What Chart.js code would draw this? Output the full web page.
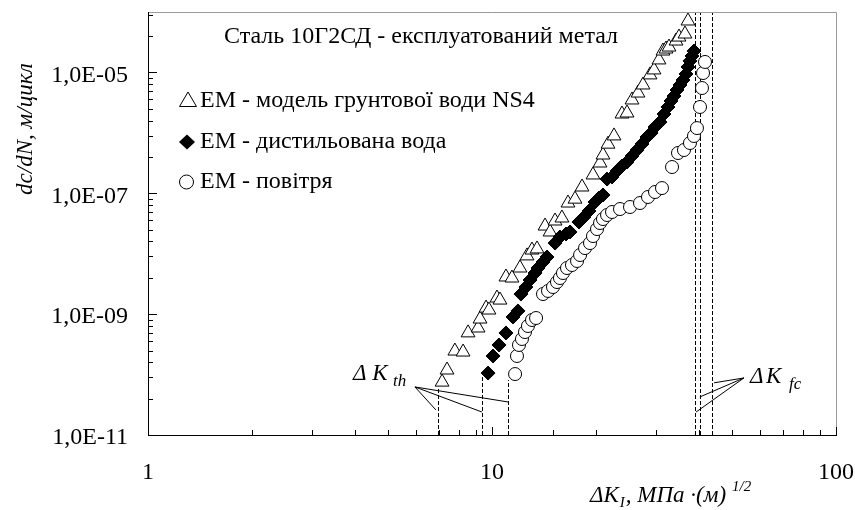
<!DOCTYPE html>
<html>
<head>
<meta charset="utf-8">
<script src="https://cdn.jsdelivr.net/npm/chart.js@4.4.0/dist/chart.umd.min.js"></script>
<style>
  html, body { margin: 0; padding: 0; background: #fff; }
</style>
</head>
<body>
<canvas id="myChart" width="855" height="510"></canvas>
<script>
// EM - model ground water NS4 (triangles)
var ns4K = [7.16, 7.40, 7.80, 8.24, 8.52, 9.11, 9.23, 9.61, 9.80, 10.34, 10.55, 10.98, 11.43, 12.06, 12.64,
  13.07, 13.52, 14.26, 14.75, 15.25, 15.97, 16.63, 17.43, 18.27, 19.66, 20.61, 21.02, 21.74, 22.63, 23.87,
  24.69, 25.53, 26.57, 27.48, 28.80, 29.58, 30.58, 31.41, 32.05, 32.70, 34.27, 34.96, 36.39, 37.13];
var ns4V = [7.5e-11, 1.19e-10, 2.45e-10, 2.36e-10, 4.9e-10, 5.9e-10, 8.3e-10, 1.26e-9, 1.17e-9, 1.85e-9, 1.71e-9,
  4.12e-9, 3.96e-9, 5.8e-9, 9.2e-9, 1.15e-8, 1.2e-8, 2.87e-8, 2.29e-8, 3.48e-8, 3.9e-8, 6.9e-8, 8.0e-8, 1.27e-7,
  2.01e-7, 3.17e-7, 4.3e-7, 6.5e-7, 8.9e-7, 2.05e-6, 2.13e-6, 3.5e-6, 4.56e-6, 6.2e-6, 9.1e-6, 1.1e-5, 1.61e-5,
  2.26e-5, 2.44e-5, 2.63e-5, 3.31e-5, 3.85e-5, 4.32e-5, 7.1e-5];

// EM - distilled water (diamonds)
var distK = [9.74, 10.07, 10.48, 10.98, 11.51, 11.90, 12.14, 12.55, 12.90, 13.34, 13.61, 14.07, 14.45, 15.25,
  15.76, 16.41, 16.86, 17.90, 18.51, 19.14, 19.93, 20.47, 21.02, 21.60, 22.33, 23.09, 23.87, 24.69, 25.53, 26.40,
  27.29, 28.22, 29.00, 29.78, 30.79, 31.62, 32.48, 33.14, 33.81, 34.50, 35.20, 35.91, 36.64, 37.13, 37.63, 38.14, 38.65];
var distV = [1.06e-10, 2.03e-10, 3.09e-10, 4.88e-10, 8.97e-10, 1.13e-9, 2.15e-9, 2.81e-9, 3.67e-9, 4.79e-9, 5.8e-9,
  7.29e-9, 8.82e-9, 1.5e-8, 1.89e-8, 2.12e-8, 2.29e-8, 3.35e-8, 4.05e-8, 5.09e-8, 7.17e-8, 8.36e-8, 9.37e-8,
  1.72e-7, 1.86e-7, 2.34e-7, 2.83e-7, 3.29e-7, 4.14e-7, 5.2e-7, 6.54e-7, 8.54e-7, 9.94e-7, 1.25e-6, 1.51e-6,
  2.05e-6, 2.68e-6, 3.37e-6, 4.07e-6, 5.12e-6, 6.19e-6, 7.49e-6, 9.42e-6, 1.23e-5, 1.55e-5, 1.87e-5, 2.26e-5];

// EM - air (circles)
var airK = [11.67, 11.82, 11.98, 12.22, 12.47, 12.72, 13.07, 13.43, 14.07, 14.55, 15.04, 15.45, 15.76, 16.08,
  16.52, 17.08, 17.67, 18.03, 18.64, 19.27, 19.66, 20.20, 20.61, 21.02, 21.60, 22.33, 23.56, 25.19, 26.93, 28.41,
  29.78, 31.20, 33.37, 34.73, 36.15, 37.63, 38.65, 39.43, 40.24, 40.78, 41.06, 41.61];
var airV = [1.02e-10, 2.03e-10, 3.09e-10, 3.88e-10, 5.06e-10, 6.36e-10, 8.0e-10, 8.63e-10, 2.15e-9, 2.42e-9,
  2.81e-9, 3.4e-9, 3.96e-9, 4.79e-9, 5.8e-9, 6.5e-9, 7.58e-9, 9.52e-9, 1.24e-8, 1.5e-8, 1.96e-8, 2.56e-8,
  3.22e-8, 3.75e-8, 4.37e-8, 4.9e-8, 5.49e-8, 5.93e-8, 6.9e-8, 8.68e-8, 1.05e-7, 1.22e-7, 2.72e-7, 4.64e-7,
  5.2e-7, 6.79e-7, 8.87e-7, 1.2e-6, 2.68e-6, 5.52e-6, 9.78e-6, 1.49e-5];

// threshold and critical SIF (dashed lines)
var kth = [6.97, 9.35, 11.1];
var kthTop = [6.2e-11, 9.8e-11, 8.1e-11];
var kfc = [38.9, 40.2, 43.6];

var legendNames = ["ЕМ - модель грунтової води NS4", "ЕМ - дистильована вода", "ЕМ - повітря"];
var chartTitle = "Сталь 10Г2СД - експлуатований метал";
var yMajor = [1e-11, 1e-9, 1e-7, 1e-5];

function pts(k, v) {
  var out = [];
  for (var i = 0; i < Math.min(k.length, v.length); i++) out.push({ x: k[i], y: v[i] });
  return out;
}

function sciLabel(v) {
  var e = Math.round(Math.log10(v));
  var s = Math.abs(e) < 10 ? "0" + Math.abs(e) : "" + Math.abs(e);
  return "1,0E" + (e < 0 ? "-" : "+") + s;
}

var SERIF = '"Liberation Serif", "Times New Roman", serif';

var overlay = {
  id: "overlay",
  beforeDatasetsDraw: function (chart) {
    var ctx = chart.ctx, xs = chart.scales.x, ys = chart.scales.y;
    ctx.save();
    ctx.strokeStyle = "#000";
    ctx.lineWidth = 1;
    ctx.setLineDash([4, 2]);
    kth.forEach(function (k, i) {
      var px = Math.round(xs.getPixelForValue(k)) + 0.5;
      ctx.beginPath();
      ctx.moveTo(px, ys.bottom);
      ctx.lineTo(px, ys.getPixelForValue(kthTop[i]));
      ctx.stroke();
    });
    kfc.forEach(function (k) {
      var px = Math.round(xs.getPixelForValue(k)) + 0.5;
      ctx.beginPath();
      ctx.moveTo(px, ys.bottom);
      ctx.lineTo(px, ys.top);
      ctx.stroke();
    });
    ctx.setLineDash([]);
    // leader lines from labels
    function fan(from, to) {
      to.forEach(function (t) {
        ctx.beginPath();
        ctx.moveTo(xs.getPixelForValue(from[0]), ys.getPixelForValue(from[1]));
        ctx.lineTo(xs.getPixelForValue(t[0]), ys.getPixelForValue(t[1]));
        ctx.stroke();
      });
    }
    fan([5.97, 6.24e-11], [[6.87, 2.6e-11], [9.35, 2.4e-11], [11.2, 3.5e-11]]);
    fan([54.0, 8.8e-11], [[44.2, 7.3e-11], [40.2, 4.26e-11], [39.2, 2.4e-11]]);
    ctx.restore();
  },
  afterDraw: function (chart) {
    var ctx = chart.ctx, xs = chart.scales.x, ys = chart.scales.y;
    var L = xs.left, R = xs.right, T = ys.top, B = ys.bottom;
    ctx.save();
    // frame
    ctx.lineWidth = 1;
    ctx.strokeStyle = "#9a9a9a";
    ctx.beginPath();
    ctx.moveTo(L, T + 0.5); ctx.lineTo(R + 0.5, T + 0.5); ctx.lineTo(R + 0.5, B);
    ctx.stroke();
    ctx.strokeStyle = "#000";
    ctx.beginPath();
    ctx.moveTo(L + 0.5, T); ctx.lineTo(L + 0.5, B + 0.5); ctx.lineTo(R + 1, B + 0.5);
    ctx.stroke();

    // inner tick marks, x
    ctx.beginPath();
    xs.ticks.forEach(function (t) {
      var p = Math.round(xs.getPixelForValue(t.value)) + 0.5;
      var lg = Math.log10(t.value);
      var len = Math.abs(lg - Math.round(lg)) < 1e-6 ? 8 : 5;
      ctx.moveTo(p, B); ctx.lineTo(p, B - len);
    });
    // inner tick marks, y (Excel style for major unit 100)
    yMajor.forEach(function (base) {
      var p = Math.round(ys.getPixelForValue(base)) + 0.5;
      ctx.moveTo(L, p); ctx.lineTo(L + 9, p);
      for (var k = 2; k <= 9; k++) {
        if (base * k * k > ys.max) break;
        var q = Math.round(ys.getPixelForValue(base * k * k)) + 0.5;
        ctx.moveTo(L, q); ctx.lineTo(L + 5, q);
      }
    });
    ctx.stroke();

    ctx.fillStyle = "#000";
    ctx.textBaseline = "alphabetic";
    ctx.textAlign = "left";
    // title
    ctx.font = "24px " + SERIF;
    ctx.fillText(chartTitle, 224, 43);

    // legend
    ctx.fillText(legendNames[0], 200, 107);
    ctx.fillText(legendNames[1], 200, 148);
    ctx.fillText(legendNames[2], 200, 188);
    ctx.lineWidth = 1;
    ctx.beginPath();
    ctx.moveTo(188, 92); ctx.lineTo(196.5, 106.5); ctx.lineTo(179.5, 106.5); ctx.closePath();
    ctx.stroke();
    ctx.beginPath();
    ctx.moveTo(187, 134.5); ctx.lineTo(195, 142); ctx.lineTo(187, 149.5); ctx.lineTo(179, 142); ctx.closePath();
    ctx.fill();
    ctx.beginPath();
    ctx.arc(186.5, 182, 7, 0, Math.PI * 2);
    ctx.stroke();

    // y axis title
    ctx.save();
    ctx.translate(32, 129);
    ctx.rotate(-Math.PI / 2);
    ctx.textAlign = "center";
    ctx.font = "italic 23px " + SERIF;
    ctx.fillText("dc/dN, м/цикл", 0, 0);
    ctx.restore();

    // x axis title with sub/superscripts
    var x0 = 590, by = 502;
    ctx.font = "italic 23px " + SERIF;
    ctx.fillText("ΔK", x0, by);
    x0 += ctx.measureText("ΔK").width + 1;
    ctx.font = "italic 15px " + SERIF;
    ctx.fillText("I", x0, by + 5);
    x0 += ctx.measureText("I").width + 1;
    ctx.font = "italic 23px " + SERIF;
    ctx.fillText(", МПа ·(м)", x0, by);
    x0 += ctx.measureText(", МПа ·(м)").width + 6;
    ctx.font = "italic 15px " + SERIF;
    ctx.fillText("1/2", x0, by - 11);

    // threshold / critical labels
    ctx.font = "italic 23px " + SERIF;
    ctx.fillText("Δ K", 353, 380);
    ctx.font = "italic 17px " + SERIF;
    ctx.fillText("th", 393, 386);
    ctx.font = "italic 23px " + SERIF;
    ctx.fillText("Δ", 750, 383);
    ctx.fillText("K", 766, 383);
    ctx.font = "italic 17px " + SERIF;
    ctx.fillText("fc", 789, 389);
    ctx.restore();
  }
};

function fixPad(s) {
  s.paddingTop = 0;
  s.paddingBottom = 0;
  s.paddingLeft = 0;
  s.paddingRight = 0;
}

var ctx = document.getElementById("myChart").getContext("2d");
var myChart = new Chart(ctx, {
  type: "scatter",
  data: {
    datasets: [
      {
        label: legendNames[0],
        data: pts(ns4K, ns4V),
        pointStyle: "triangle",
        pointRadius: 8,
        backgroundColor: "#fff",
        borderColor: "#000",
        borderWidth: 1,
        clip: false,
        order: 3,
      },
      {
        label: legendNames[1],
        data: pts(distK, distV),
        pointStyle: "rectRot",
        pointRadius: 7,
        backgroundColor: "#000",
        borderColor: "#000",
        borderWidth: 1,
        clip: false,
        order: 2,
      },
      {
        label: legendNames[2],
        data: pts(airK, airV),
        pointStyle: "circle",
        pointRadius: 6.5,
        backgroundColor: "#fff",
        borderColor: "#000",
        borderWidth: 1,
        clip: false,
        order: 1,
      },
    ],
  },
  options: {
    responsive: false,
    animation: false,
    events: [],
    layout: { padding: { left: 0, right: 19, top: 12, bottom: 0 } },
    plugins: {
      legend: { display: false },
      tooltip: { enabled: false },
      title: { display: false },
    },
    scales: {
      x: {
        type: "logarithmic",
        min: 1,
        max: 100,
        grid: { display: false, drawTicks: false },
        border: { display: false },
        afterFit: function (s) { s.height = 75; fixPad(s); },
        ticks: {
          autoSkip: false,
          maxRotation: 0,
          padding: 23,
          color: "#000",
          font: { family: "Liberation Serif", size: 24 },
          callback: function (v) {
            var lg = Math.log10(v);
            return Math.abs(lg - Math.round(lg)) < 1e-6 ? String(v) : "";
          },
        },
      },
      y: {
        type: "logarithmic",
        min: 1e-11,
        max: 1e-4,
        grid: { display: false, drawTicks: false },
        border: { display: false },
        afterFit: function (s) { s.width = 148; fixPad(s); },
        ticks: {
          autoSkip: false,
          padding: 20,
          labelOffset: 3,
          color: "#000",
          font: { family: "Liberation Serif", size: 24 },
          callback: function (v) {
            for (var i = 0; i < yMajor.length; i++) {
              if (Math.abs(Math.log10(v) - Math.log10(yMajor[i])) < 1e-6) return sciLabel(v);
            }
            return "";
          },
        },
      },
    },
  },
  plugins: [overlay],
});
</script>
</body>
</html>
